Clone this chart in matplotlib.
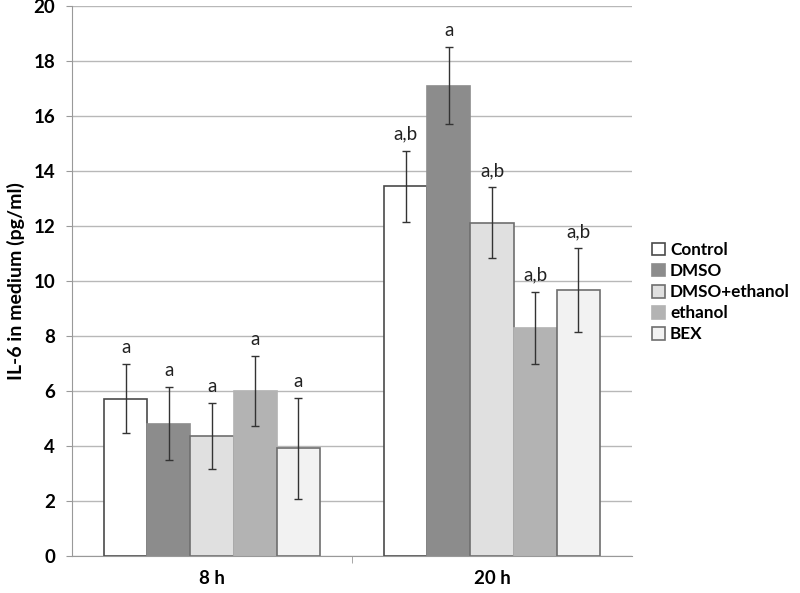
import matplotlib.pyplot as plt
import numpy as np

plt.rcParams['font.family'] = ['Lato', 'DejaVu Sans']

# Data
time_points = ["8 h", "20 h"]
treatments = ["Control", "DMSO", "DMSO+ethanol", "ethanol", "BEX"]

il6_means = {
    "Control": [5.71, 13.44],
    "DMSO": [4.80, 17.10],
    "DMSO+ethanol": [4.34, 12.12],
    "ethanol": [6.00, 8.29],
    "BEX": [3.90, 9.65],
}

il6_errors = {
    "Control": [1.26, 1.30],
    "DMSO": [1.33, 1.40],
    "DMSO+ethanol": [1.20, 1.28],
    "ethanol": [1.27, 1.30],
    "BEX": [1.84, 1.53],
}

significance = {
    "Control": ["a", "a,b"],
    "DMSO": ["a", "a"],
    "DMSO+ethanol": ["a", "a,b"],
    "ethanol": ["a", "a,b"],
    "BEX": ["a", "a,b"],
}

# Styling per treatment
fill_colors = ["#ffffff", "#8c8c8c", "#e0e0e0", "#b3b3b3", "#f2f2f2"]
edge_colors = ["#4a4a4a", "#8c8c8c", "#6e6e6e", "#b3b3b3", "#6e6e6e"]

fig = plt.figure(figsize=(8, 5.93), dpi=100)
ax = fig.add_axes([0.09, 0.063, 0.70, 0.927])

x = np.arange(len(time_points))
bar_width = 0.154
offsets = (np.arange(len(treatments)) - 2) * bar_width

for i, name in enumerate(treatments):
    means = il6_means[name]
    errs = il6_errors[name]
    ax.bar(
        x + offsets[i],
        means,
        width=bar_width,
        color=fill_colors[i],
        edgecolor=edge_colors[i],
        linewidth=1.2,
        label=name,
        zorder=2
    )
    ax.errorbar(
        x + offsets[i],
        means,
        yerr=errs,
        fmt="none",
        ecolor="#333333",
        elinewidth=1,
        capsize=3,
        capthick=1,
        zorder=3
    )
    for j in range(len(time_points)):
        ax.text(
            x[j] + offsets[i],
            means[j] + errs[j] + 0.3,
            significance[name][j],
            ha="center",
            va="bottom",
            fontsize=13.5,
            color="#222222"
        )

ax.set_xlim(-0.5, 1.5)
ax.set_ylim(0, 20)
ax.set_yticks(np.arange(0, 21, 2))
ax.yaxis.grid(True, color="#b8b8b8", linewidth=1, zorder=0)
ax.set_axisbelow(True)

ax.set_xticks([0.5], minor=True)
ax.set_xticks(x)
ax.set_xticklabels(time_points, fontsize=13.5, fontweight="bold")
ax.tick_params(axis="x", which="major", length=0, pad=10)
ax.tick_params(axis="x", which="minor", length=5, color="#999999")
ax.tick_params(axis="y", length=4, color="#999999", labelsize=13.5, pad=8)
for label in ax.get_yticklabels():
    label.set_fontweight("bold")

for side in ["top", "right"]:
    ax.spines[side].set_visible(False)
for side in ["left", "bottom"]:
    ax.spines[side].set_color("#999999")

ax.set_ylabel("IL-6 in medium (pg/ml)", fontsize=14, fontweight="bold", labelpad=6)

legend = fig.legend(
    loc="upper left",
    bbox_to_anchor=(0.798, 0.615),
    frameon=False,
    handlelength=0.75,
    handleheight=0.75,
    handletextpad=0.3,
    labelspacing=0.3,
    borderpad=0.3,
    prop={"weight": "bold", "size": 12.3}
)

fig.savefig("out.png", dpi=100)
